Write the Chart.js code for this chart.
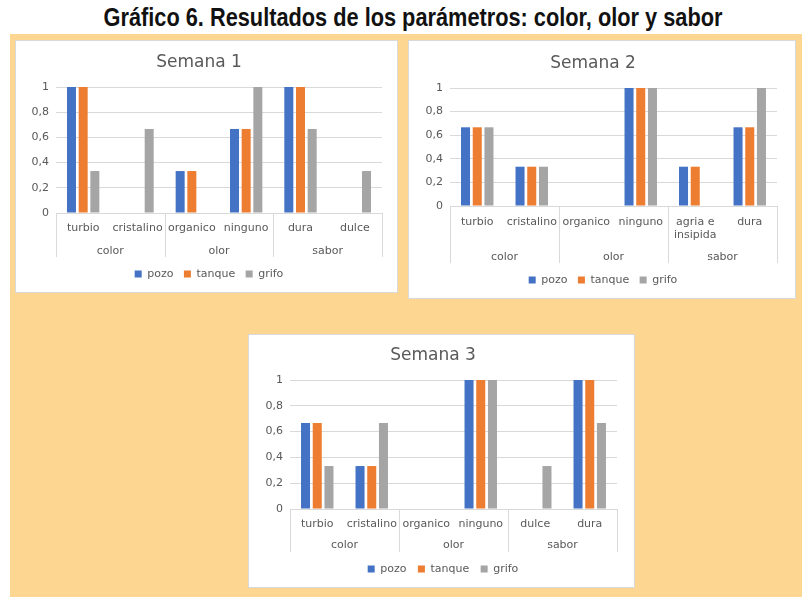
<!DOCTYPE html>
<html>
<head>
<meta charset="utf-8">
<script src="https://cdn.jsdelivr.net/npm/chart.js@4.4.0/dist/chart.umd.min.js"></script>
<style>
  body { margin: 0; background: #fff; width: 802px; height: 598px; position: relative; overflow: hidden; }
  #titulo {
    position: absolute; left: 413px; top: 3px; transform: translateX(-50%) scaleX(0.87);
    white-space: nowrap; font-family: "Liberation Sans Narrow", "Arial Narrow", sans-serif;
    font-weight: bold; font-size: 25px; color: #111;
  }
  #fondo { position: absolute; left: 10px; top: 34px; right: 0; bottom: 1px; background: #FDD691; }
  .panel { position: absolute; box-sizing: border-box; border: 1px solid #D9D9D9; background: #fff; }
  .panel canvas { display: block; }
</style>
</head>
<body>
<div id="titulo">Gráfico 6. Resultados de los parámetros: color, olor y sabor</div>
<div id="fondo"></div>
<div class="panel" style="left:15px; top:40px; width:383px; height:253px;"><canvas id="semana1"></canvas></div>
<div class="panel" style="left:408px; top:40px; width:388px; height:259px;"><canvas id="semana2"></canvas></div>
<div class="panel" style="left:248px; top:334px; width:387px; height:254px;"><canvas id="semana3"></canvas></div>

<script>
// ---- datos ----
const grupos = ['color', 'olor', 'sabor'];
const series = ['pozo', 'tanque', 'grifo'];
const yTickLabels = ['0', '0,2', '0,4', '0,6', '0,8', '1'];

const categorias1 = ['turbio', 'cristalino', 'organico', 'ninguno', 'dura', 'dulce'];
const pozo1   = [1, 0, 0.333, 0.667, 1, 0];
const tanque1 = [1, 0, 0.333, 0.667, 1, 0];
const grifo1  = [0.333, 0.667, 0, 1, 0.667, 0.333];

const categorias2 = ['turbio', 'cristalino', 'organico', 'ninguno', ['agria e', 'insipida'], 'dura'];
const pozo2   = [0.667, 0.333, 0, 1, 0.333, 0.667];
const tanque2 = [0.667, 0.333, 0, 1, 0.333, 0.667];
const grifo2  = [0.667, 0.333, 0, 1, 0, 1];

const categorias3 = ['turbio', 'cristalino', 'organico', 'ninguno', 'dulce', 'dura'];
const pozo3   = [0.667, 0.333, 0, 1, 0, 1];
const tanque3 = [0.667, 0.333, 0, 1, 0, 1];
const grifo3  = [0.333, 0.667, 0, 1, 0.333, 0.667];

const colores = ['#4472C4', '#ED7D31', '#A5A5A5'];
const gris = '#595959';
const fuente = 'DejaVu Sans';

// lineas verticales del eje de categorias de dos niveles (estilo Excel)
const separadores = {
  id: 'separadores',
  afterLayout(chart, args, opts) {
    // la leyenda de Excel queda un poco mas a la derecha
    chart.legend.left += opts.dxLeyenda;
    chart.legend.right += opts.dxLeyenda;
  },
  afterDraw(chart, args, opts) {
    const x = chart.scales.x, ctx = chart.ctx;
    const n = x.ticks.length;
    const pos = [x.left, x.right];
    for (let i = 2; i < n; i += 2) pos.push((x.getPixelForTick(i - 1) + x.getPixelForTick(i)) / 2);
    ctx.save();
    ctx.strokeStyle = '#D9D9D9';
    ctx.lineWidth = 1;
    pos.forEach(px => {
      const p = Math.round(px) + 0.5;
      ctx.beginPath();
      ctx.moveTo(p, x.top);
      ctx.lineTo(p, x.top + opts.largo);
      ctx.stroke();
    });
    ctx.restore();
  }
};

function semana(id, titulo, categorias, valores, g) {
  const canvas = document.getElementById(id);
  canvas.width = g.W; canvas.height = g.H;
  const x2Bottom = g.plotBottom + g.groupDy + 7;
  const legPad = g.legendY - x2Bottom - 5.5;
  const h2 = g.groupDy + 7 - g.h1;
  return new Chart(canvas, {
    type: 'bar',
    data: {
      labels: categorias,
      datasets: series.map((s, i) => ({
        label: s,
        data: valores[i],
        backgroundColor: colores[i],
        borderWidth: 0,
        categoryPercentage: 0.645,
        barPercentage: 0.77
      }))
    },
    options: {
      responsive: false,
      animation: false,
      layout: { padding: { left: 0, right: g.W - g.plotRight, top: 0, bottom: g.H - (x2Bottom + 11 + legPad + 10) } },
      scales: {
        x: {
          grid: { display: false, drawTicks: false },
          border: { display: false },
          ticks: { color: gris, font: { family: fuente, size: 11 }, padding: g.labelDy - 6.6, maxRotation: 0, autoSkip: false },
          afterFit: s => { s.height = g.h1; }
        },
        x2: {
          type: 'category',
          position: 'bottom',
          labels: grupos,
          grid: { display: false, drawTicks: false },
          border: { display: false },
          ticks: { color: gris, font: { family: fuente, size: 11 }, padding: g.groupDy - g.h1 - 6.6, maxRotation: 0 },
          afterFit: s => { s.height = h2; }
        },
        y: {
          min: 0, max: 1,
          grid: { color: '#D9D9D9', drawTicks: false },
          border: { display: false },
          ticks: {
            stepSize: 0.2, color: gris, font: { family: fuente, size: 11 }, padding: 7,
            callback: (v, i) => yTickLabels[i]
          },
          afterFit: s => { s.width = g.plotLeft; }
        }
      },
      plugins: {
        title: {
          display: true, text: titulo, color: gris,
          font: { family: fuente, size: 17, weight: 'normal' },
          padding: { top: g.titleY - 10.2, bottom: g.plotTop - g.titleY - 10.2 }
        },
        legend: {
          position: 'bottom',
          labels: { color: gris, font: { family: fuente, size: 11 }, boxWidth: 7, boxHeight: 7, padding: legPad }
        },
        tooltip: { enabled: false },
        separadores: { largo: g.lineDy, dxLeyenda: 10 }
      }
    },
    plugins: [separadores]
  });
}

semana('semana1', 'Semana 1', categorias1, [pozo1, tanque1, grifo1],
  { W: 381, H: 251, plotLeft: 40, plotRight: 366, plotTop: 46, plotBottom: 172, titleY: 22, labelDy: 15, h1: 22, groupDy: 38, lineDy: 44, legendY: 233 });
semana('semana2', 'Semana 2', categorias2, [pozo2, tanque2, grifo2],
  { W: 386, H: 257, plotLeft: 41, plotRight: 368, plotTop: 47, plotBottom: 165, titleY: 23, labelDy: 16, h1: 35, groupDy: 51, lineDy: 57, legendY: 239 });
semana('semana3', 'Semana 3', categorias3, [pozo3, tanque3, grifo3],
  { W: 385, H: 252, plotLeft: 41, plotRight: 368, plotTop: 45, plotBottom: 174, titleY: 21, labelDy: 15, h1: 22, groupDy: 36, lineDy: 43, legendY: 234 });
</script>
</body>
</html>
